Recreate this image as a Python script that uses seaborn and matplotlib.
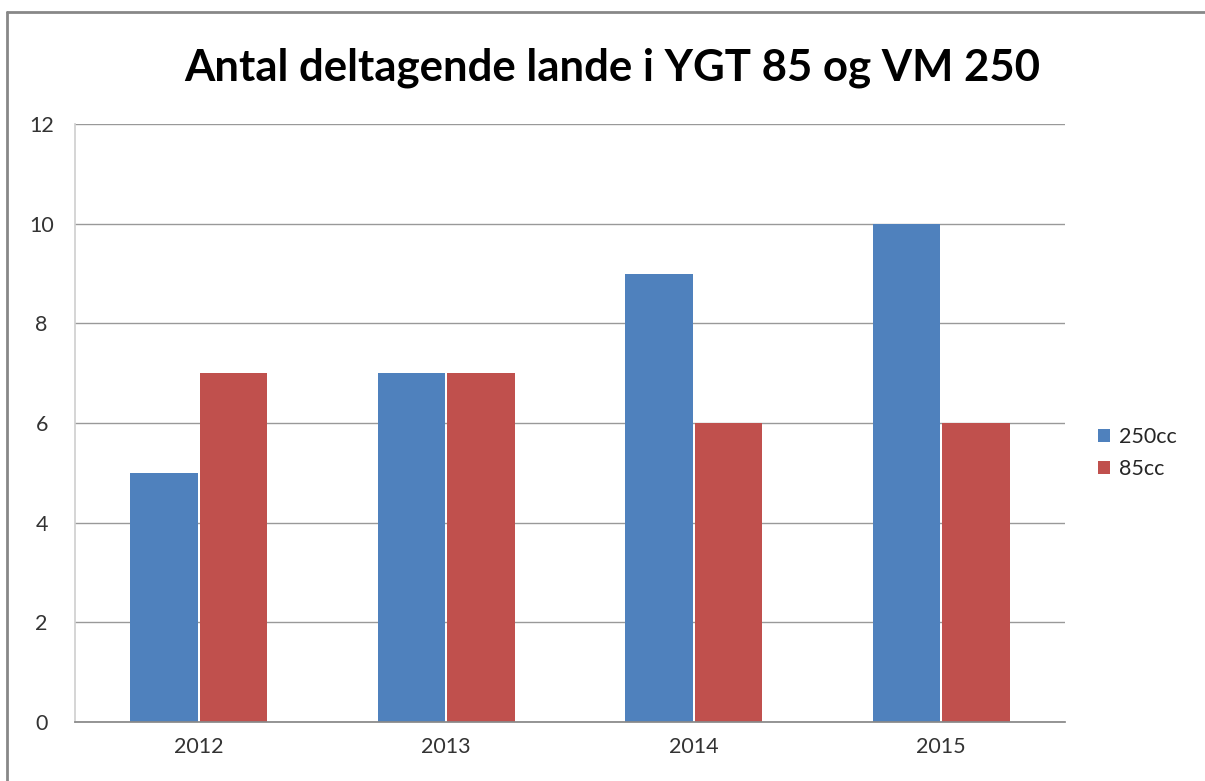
import matplotlib
matplotlib.use('Agg')
import matplotlib.pyplot as plt
import pandas as pd
import seaborn as sns
from matplotlib.lines import Line2D

years = ['2012', '2013', '2014', '2015']
cc250 = [5, 7, 9, 10]
cc85 = [7, 7, 6, 6]
series_names = ['250cc', '85cc']
colors = ['#4F81BD', '#C0504D']
y_ticks = [0, 2, 4, 6, 8, 10, 12]

df = pd.DataFrame({
    'year': years * 2,
    'value': cc250 + cc85,
    'series': [series_names[0]] * len(years) + [series_names[1]] * len(years),
})

sns.set_theme(style='white')
plt.rcParams['font.family'] = ['Lato', 'DejaVu Sans']

fig = plt.figure(figsize=(12.05, 7.81), dpi=100)
ax = fig.add_axes([75 / 1205, 59 / 781, 990 / 1205, 598 / 781])

sns.barplot(data=df, x='year', y='value', hue='series', palette=colors,
            width=0.56, gap=0.03, ax=ax, saturation=1, edgecolor='none')

ax.set_ylim(0, 12)
ax.set_yticks(y_ticks)
ax.set_yticklabels([str(t) for t in y_ticks], fontsize=15.5, color='#333333')
ax.tick_params(axis='x', labelsize=15.5, colors='#333333', length=0, pad=11)
ax.tick_params(axis='y', length=0, pad=24)
for lbl in ax.get_yticklabels():
    lbl.set_horizontalalignment('center')
ax.set_xlabel('')
ax.set_ylabel('')
ax.yaxis.grid(True, color='#999999', linewidth=1)
ax.set_axisbelow(True)
for side in ['top', 'right']:
    ax.spines[side].set_visible(False)
ax.spines['bottom'].set_color('#888888')
ax.spines['left'].set_color('#d0d0d0')

handles, labels = ax.get_legend_handles_labels()
ax.legend(handles, labels, loc='center left', bbox_to_anchor=(1.025, 0.45),
          frameon=False, fontsize=15.5, handlelength=0.55, handleheight=0.55,
          handletextpad=0.4, labelspacing=0.55, borderaxespad=0)

fig.text(612 / 1205, 1 - 68 / 781, 'Antal deltagende lande i YGT 85 og VM 250',
         ha='center', va='center', fontsize=31.5, fontweight='bold', color='#000000')

# outer chart frame (top and left visible)
fig.add_artist(Line2D([7 / 1205, 1], [1 - 12 / 781, 1 - 12 / 781],
                      transform=fig.transFigure, color='#888888', linewidth=2))
fig.add_artist(Line2D([7 / 1205, 7 / 1205], [0, 1 - 12 / 781],
                      transform=fig.transFigure, color='#888888', linewidth=2))

fig.savefig('out.png', dpi=100)
